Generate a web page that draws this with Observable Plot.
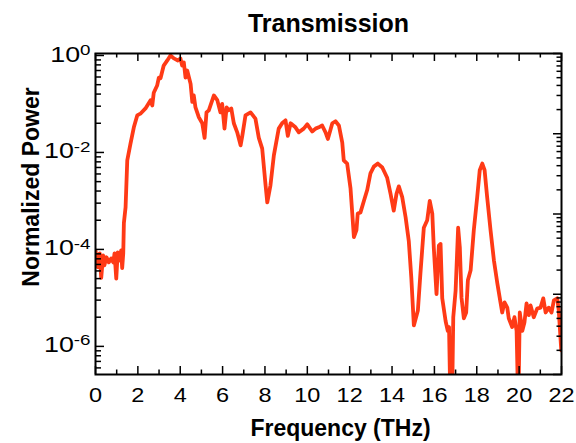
<!DOCTYPE html>
<html><head><meta charset="utf-8">
<script src="https://cdn.jsdelivr.net/npm/d3@7"></script>
<script src="https://cdn.jsdelivr.net/npm/@observablehq/plot@0.6"></script>
<style>
html,body{margin:0;padding:0;background:#fff;}
</style></head><body><div id="chart"></div>
<script>
const title = "Transmission";
const xLabel = "Frequency (THz)";
const yLabel = "Normalized Power";

const frequency = [
  0, 0.05, 0.11, 0.20, 0.27, 0.36, 0.42, 0.52, 0.63, 0.74,
  0.84, 0.90, 0.98, 1.05, 1.15, 1.21, 1.26, 1.31, 1.34, 1.42,
  1.50, 1.65, 1.81, 1.97, 2.12, 2.36, 2.60, 2.68, 2.75, 2.91,
  2.99, 3.07, 3.22, 3.39, 3.54, 3.70, 3.89, 4.01, 4.09, 4.17,
  4.25, 4.33, 4.49, 4.57, 4.64, 4.72, 4.88, 5.04, 5.15, 5.24,
  5.35, 5.59, 5.75, 5.90, 5.98, 6.09, 6.19, 6.29, 6.41, 6.53,
  6.69, 6.85, 6.93, 7.08, 7.32, 7.55, 7.71, 7.87, 8.03, 8.11,
  8.26, 8.42, 8.65, 8.81, 8.97, 9.08, 9.21, 9.44, 9.60, 9.83,
  10.00, 10.23, 10.39, 10.54, 10.70, 10.86, 10.97, 11.18, 11.33, 11.49,
  11.65, 11.72, 11.88, 12.04, 12.20, 12.32, 12.38, 12.51, 12.67, 12.83,
  12.98, 13.14, 13.33, 13.54, 13.77, 13.93, 14.08, 14.21, 14.32, 14.48,
  14.64, 14.79, 14.91, 15.03, 15.22, 15.34, 15.50, 15.66, 15.78, 15.90,
  15.97, 16.10, 16.21, 16.29, 16.37, 16.53, 16.63, 16.69, 16.76, 16.83,
  16.89, 17.00, 17.12, 17.20, 17.28, 17.39, 17.50, 17.58, 17.71, 17.86,
  18.02, 18.14, 18.26, 18.37, 18.49, 18.65, 18.81, 18.97, 19.12, 19.20,
  19.31, 19.44, 19.51, 19.67, 19.78, 19.88, 19.96, 20.03, 20.15, 20.25,
  20.35, 20.46, 20.54, 20.69, 20.85, 21.01, 21.14, 21.25, 21.40, 21.53,
  21.64, 21.80, 21.87, 21.99
];

const power = [
  9.5e-5, 6.9e-5, 4.3e-5, 8.3e-5, 2.6e-5, 7.5e-5, 4.7e-5, 6.9e-5, 5.4e-5, 6.5e-5,
  5.4e-5, 8.3e-5, 2.5e-5, 8.7e-5, 5.9e-5, 9.5e-5, 4.1e-5, 8.3e-5, 3.5e-4, 7.4e-4,
  6.9e-3, 1.5e-2, 3.3e-2, 5.8e-2, 6.3e-2, 8.1e-2, 0.12, 0.093, 0.17, 0.24,
  0.35, 0.34, 0.62, 0.79, 1.0, 0.87, 0.79, 0.87, 0.62, 0.72,
  0.35, 0.49, 0.26, 0.11, 0.15, 0.085, 0.053, 0.040, 0.020, 0.067,
  0.074, 0.15, 0.12, 0.067, 0.10, 0.031, 0.085, 0.074, 0.081, 0.040,
  0.026, 0.014, 0.022, 0.058, 0.067, 0.050, 0.020, 0.012, 2.1e-3, 9.3e-4,
  2.1e-3, 8.7e-3, 0.031, 0.040, 0.046, 0.022, 0.040, 0.033, 0.026, 0.031,
  0.038, 0.027, 0.031, 0.033, 0.036, 0.026, 0.019, 0.040, 0.044, 0.036,
  0.016, 6.9e-3, 5.9e-3, 1.8e-3, 1.8e-4, 2.5e-4, 5.5e-4, 5.8e-4, 1.0e-3, 1.7e-3,
  3.7e-3, 5.1e-3, 5.9e-3, 4.9e-3, 3.0e-3, 1.4e-3, 6.3e-4, 1.4e-3, 2.0e-3, 1.2e-3,
  4.6e-4, 1.5e-4, 2.6e-5, 2.7e-6, 5.5e-6, 3.2e-5, 2.8e-4, 4.0e-4, 1.0e-3, 5.5e-4,
  1.1e-4, 1.2e-5, 1.2e-4, 1.3e-4, 9.8e-6, 3.3e-6, 2.1e-6, 2.5e-6, 5e-8, 5e-8,
  4.0e-6, 1.4e-5, 2.8e-4, 1.1e-4, 1.0e-5, 3.8e-6, 5.0e-6, 2.3e-5, 3.7e-5, 2.5e-4,
  1.2e-3, 4.3e-3, 5.9e-3, 4.3e-3, 1.2e-3, 2.5e-4, 5.9e-5, 2.0e-5, 8.1e-6, 5.0e-6,
  8.1e-6, 6.3e-6, 3.8e-6, 2.5e-6, 4.0e-6, 2.1e-6, 5e-8, 5.0e-6, 2.1e-6, 3.1e-6,
  7.7e-6, 4.4e-6, 7.0e-6, 4.0e-6, 6.0e-6, 6.3e-6, 9.8e-6, 5.0e-6, 6.3e-6, 5.0e-6,
  8.9e-6, 9.8e-6, 5.5e-6, 8.3e-7
];

const xMajorTicks = [0, 2, 4, 6, 8, 10, 12, 14, 16, 18, 20, 22];
const xMinorTicks = [1, 3, 5, 7, 9, 11, 13, 15, 17, 19, 21];
const yLabelTicks = [1, 1e-2, 1e-4, 1e-6];
const minorMultipliers = [2, 3, 4, 5, 6, 7, 8, 9];
const rightDecades = [0, -1, -2, -3, -4];

// layout
const W = 576, H = 443;
const mL = 95, mR = 15, mT = 53, mB = 69;
const frameW = W - mL - mR, frameH = H - mT - mB;
const logTop = 0.041, logBottom = -6.58;
const yDomain = [Math.pow(10, logBottom), Math.pow(10, logTop)];

const data = frequency.map((f, i) => ({f, p: power[i]}));

// left axis: labelled every two decades, minor ticks spaced as a log cycle over each two-decade span
const leftMinor = [];
for (const base of yLabelTicks) for (const m of minorMultipliers) {
  const v = base * (m / 10) * (m / 10);
  if (v >= yDomain[0] && v <= yDomain[1]) leftMinor.push(v);
}
// right axis: a four-decade log axis spanning the frame
const rightToLeft = r => Math.pow(10, logBottom + (Math.log10(r) + 4) * (logTop - logBottom) / 4);
const rightMajor = rightDecades.map(k => rightToLeft(Math.pow(10, k)));
const rightMinor = [];
for (const k of rightDecades.slice(1)) for (const m of minorMultipliers) rightMinor.push(rightToLeft(m * Math.pow(10, k)));

const ink = "#000";
const lineColor = "#ff3a16";

const chart = Plot.plot({
  width: W, height: H,
  marginLeft: mL, marginRight: mR, marginTop: mT, marginBottom: mB,
  style: {fontFamily: "'Liberation Sans', Arial, Helvetica, sans-serif", fontSize: "21px", color: ink, background: "#fff"},
  x: {domain: [0, 22]},
  y: {type: "log", domain: yDomain},
  marks: [
    Plot.line(data, {x: "f", y: "p", stroke: lineColor, strokeWidth: 3.8, strokeLinejoin: "round", strokeLinecap: "round", clip: true}),
    // bottom & top x ticks (inward)
    Plot.tickX(xMajorTicks, {x: d => d, insetTop: frameH - 8, stroke: ink, strokeWidth: 1.5}),
    Plot.tickX(xMinorTicks, {x: d => d, insetTop: frameH - 4.5, stroke: ink, strokeWidth: 1.5}),
    Plot.tickX(xMajorTicks, {x: d => d, insetBottom: frameH - 8, stroke: ink, strokeWidth: 1.5}),
    Plot.tickX(xMinorTicks, {x: d => d, insetBottom: frameH - 4.5, stroke: ink, strokeWidth: 1.5}),
    // left y ticks
    Plot.tickY(yLabelTicks, {y: d => d, insetRight: frameW - 9, stroke: ink, strokeWidth: 1.5}),
    Plot.tickY(leftMinor, {y: d => d, insetRight: frameW - 6, stroke: ink, strokeWidth: 1.5}),
    // right y ticks
    Plot.tickY(rightMajor, {y: d => d, insetLeft: frameW - 8, stroke: ink, strokeWidth: 1.5}),
    Plot.tickY(rightMinor, {y: d => d, insetLeft: frameW - 4.5, stroke: ink, strokeWidth: 1.5}),
    Plot.frame({stroke: ink, strokeWidth: 2}),
    Plot.axisX({ticks: xMajorTicks, tickSize: 0, tickPadding: 13, label: null, fontSize: 21}),
    Plot.axisY({ticks: yLabelTicks, tickSize: 0, tickPadding: 5, dy: -1, label: null, fontSize: 22,
      tickFormat: d => "10^" + Math.round(Math.log10(d))}),
    Plot.text([title], {frameAnchor: "top", dy: -39, fontSize: 25, fontWeight: "bold", fill: ink}),
    Plot.text([xLabel], {frameAnchor: "bottom", dx: 12, dy: 61, fontSize: 23, fontWeight: "bold", fill: ink}),
    Plot.text([yLabel], {frameAnchor: "left", textAnchor: "middle", dx: -64, dy: -27, rotate: -90, fontSize: 23, fontWeight: "bold", fill: ink})
  ]
});

// widen tick labels horizontally like the reference's stretched digits
function stretch(t, sx) {
  const tr = t.getAttribute("transform");
  if (tr) {
    t.setAttribute("transform", tr + ` scale(${sx},1)`);
  } else {
    const x = +(t.getAttribute("x") || 0), y = +(t.getAttribute("y") || 0);
    t.removeAttribute("x"); t.removeAttribute("y");
    t.setAttribute("transform", `translate(${x},${y}) scale(${sx},1)`);
  }
}

// superscript exponents on the y tick labels
chart.querySelectorAll('g[aria-label="y-axis tick label"] text').forEach(t => {
  const [b, e] = t.textContent.split("^");
  if (e === undefined) return;
  t.textContent = b;
  const ts = document.createElementNS("http://www.w3.org/2000/svg", "tspan");
  ts.setAttribute("dy", "-0.45em");
  ts.setAttribute("font-size", "0.7em");
  ts.textContent = e;
  t.appendChild(ts);
  stretch(t, 1.22);
});
chart.querySelectorAll('g[aria-label="x-axis tick label"] text').forEach(t => stretch(t, 1.12));

document.getElementById("chart").appendChild(chart);
</script>
</body></html>
